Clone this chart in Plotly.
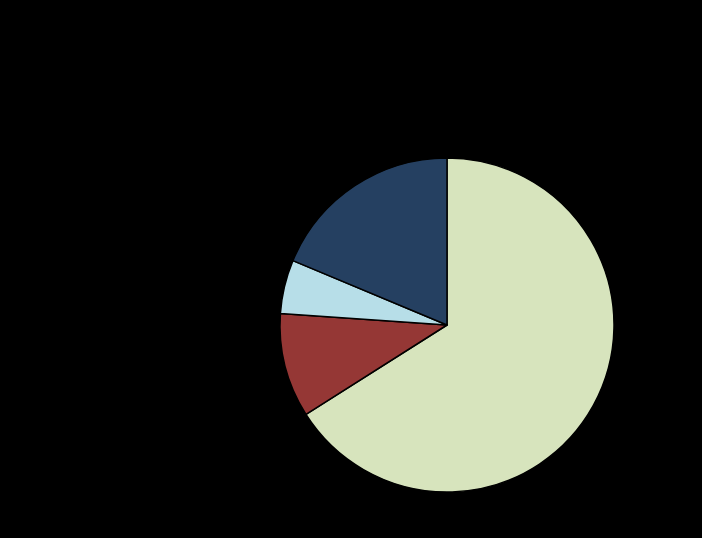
"""Pie chart on a black background, four slices, no visible labels."""

import plotly.graph_objects as go

CATEGORIES = ["A", "B", "C", "D"]
VALUES = [66.0, 10.1, 5.2, 18.7]
COLORS = ["#D7E4BD", "#953735", "#B7DEE8", "#254061"]

fig = go.Figure()
fig.add_trace(
    go.Pie(
        labels=CATEGORIES,
        values=VALUES,
        sort=False,
        direction="clockwise",
        rotation=0,
        textinfo="none",
        marker={"colors": COLORS, "line": {"color": "#000000", "width": 1.5}},
        domain={"x": [280 / 702, 614 / 702], "y": [46 / 538, 380 / 538]},
        showlegend=False,
    )
)

fig.update_layout(
    width=702,
    height=538,
    paper_bgcolor="#000000",
    plot_bgcolor="#000000",
    margin={"l": 0, "r": 0, "t": 0, "b": 0},
)

# page body has an 8px default margin, drop it so the figure fills the window
fig.write_html(
    "out.html",
    config={"displayModeBar": False},
    post_script="document.body.style.margin='0';document.body.style.background='#000';",
)
